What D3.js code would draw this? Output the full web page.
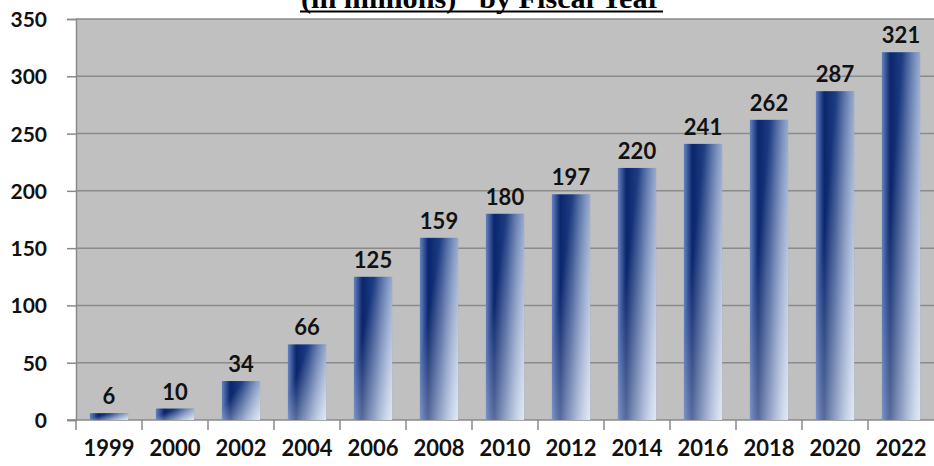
<!DOCTYPE html>
<html>
<head>
<meta charset="utf-8">
<script src="https://cdn.jsdelivr.net/npm/d3@7"></script>
<style>
  body { margin: 0; background: #fff; }
  svg { display: block; }
  .axis text { font-family: Lato, "Open Sans", sans-serif; font-weight: 700; fill: #111; }
  .value { font-family: Lato, "Open Sans", sans-serif; font-weight: 700; fill: #111; }
  .title { font-family: "Liberation Serif", "Times New Roman", serif; font-weight: 700; fill: #000; }
</style>
</head>
<body>
<svg id="chart" width="934" height="466"></svg>
<script>
var years = ["1999", "2000", "2002", "2004", "2006", "2008", "2010", "2012", "2014", "2016", "2018", "2020", "2022"];
var values = [6, 10, 34, 66, 125, 159, 180, 197, 220, 241, 262, 287, 321];
var yTicks = [0, 50, 100, 150, 200, 250, 300, 350];

var svg = d3.select("#chart"),
  margin = { top: 19, right: 0, bottom: 46, left: 76 },
  width = +svg.attr("width") - margin.left - margin.right,
  height = +svg.attr("height") - margin.top - margin.bottom;

var x = d3.scaleBand().domain(years).range([0, width]).paddingInner(0.42).paddingOuter(0.21),
  xEdge = d3.scaleBand().domain(years).range([0, width]),
  y = d3.scaleLinear().domain([0, 350]).range([height, 0]);

var defs = svg.append("defs");

// horizontal shading of a bar
var gh = defs.append("linearGradient").attr("id", "barH")
  .attr("x1", 0).attr("y1", 0).attr("x2", 1).attr("y2", 0);
gh.append("stop").attr("offset", "0%").attr("stop-color", "#6582c0");
gh.append("stop").attr("offset", "22%").attr("stop-color", "#0a266c");
gh.append("stop").attr("offset", "55%").attr("stop-color", "#203f84");
gh.append("stop").attr("offset", "100%").attr("stop-color", "#5f7cb4");

// lightening toward the bottom right
var gv = defs.append("linearGradient").attr("id", "barV")
  .attr("x1", 0.2).attr("y1", 0.45).attr("x2", 0.95).attr("y2", 1);
gv.append("stop").attr("offset", "0%").attr("stop-color", "#ffffff").attr("stop-opacity", 0);
gv.append("stop").attr("offset", "100%").attr("stop-color", "#eef3fc").attr("stop-opacity", 0.88);

// title, clipped at the top like the source
svg.append("text")
  .attr("class", "title")
  .attr("x", 481)
  .attr("y", 8)
  .attr("text-anchor", "middle")
  .attr("font-size", 27)
  .attr("textLength", 360)
  .attr("lengthAdjust", "spacingAndGlyphs")
  .text("(in millions)\u201D  by Fiscal Year");
svg.append("line")
  .attr("x1", 300).attr("x2", 663)
  .attr("y1", 11.5).attr("y2", 11.5)
  .attr("stroke", "#000").attr("stroke-width", 2);

var g = svg.append("g")
  .attr("transform", "translate(" + margin.left + "," + margin.top + ")");

g.append("rect")
  .attr("width", width)
  .attr("height", height)
  .attr("fill", "#c0c0c0");

g.append("g")
  .selectAll("line")
  .data(yTicks.slice(1))
  .enter().append("line")
  .attr("x1", 0).attr("x2", width)
  .attr("y1", function (d) { return y(d); })
  .attr("y2", function (d) { return y(d); })
  .attr("stroke", "#8a8a8a")
  .attr("stroke-width", 1.5);

// y axis
var yAxis = g.append("g")
  .attr("class", "axis axis--y")
  .call(d3.axisLeft(y).tickValues(yTicks).tickSize(9).tickPadding(20));
yAxis.select(".domain").attr("stroke", "#8a8a8a").attr("stroke-width", 1.5);
yAxis.selectAll(".tick line").attr("stroke", "#8a8a8a").attr("stroke-width", 1.5);
yAxis.selectAll("text").attr("font-size", 21).attr("dy", "0.36em");

// x axis with ticks between categories
var xAxis = g.append("g")
  .attr("class", "axis axis--x")
  .attr("transform", "translate(0," + height + ")");
xAxis.append("line")
  .attr("x1", -9).attr("x2", width)
  .attr("stroke", "#8a8a8a").attr("stroke-width", 1.5);
xAxis.selectAll(".sep")
  .data(years)
  .enter().append("line")
  .attr("class", "sep")
  .attr("x1", function (d) { return xEdge(d); })
  .attr("x2", function (d) { return xEdge(d); })
  .attr("y1", 0).attr("y2", 10)
  .attr("stroke", "#8a8a8a").attr("stroke-width", 1.5);
xAxis.selectAll("text")
  .data(years)
  .enter().append("text")
  .attr("x", function (d) { return xEdge(d) + xEdge.bandwidth() / 2; })
  .attr("y", 36)
  .attr("text-anchor", "middle")
  .attr("font-size", 22)
  .text(function (d) { return d; });

// bars
var bars = g.selectAll(".bar")
  .data(values)
  .enter().append("g")
  .attr("class", "bar");

bars.append("rect")
  .attr("x", function (d, i) { return x(years[i]); })
  .attr("y", function (d) { return y(d); })
  .attr("width", x.bandwidth())
  .attr("height", function (d) { return height - y(d); })
  .attr("fill", "url(#barH)");

bars.append("rect")
  .attr("x", function (d, i) { return x(years[i]); })
  .attr("y", function (d) { return y(d); })
  .attr("width", x.bandwidth())
  .attr("height", function (d) { return height - y(d); })
  .attr("fill", "url(#barV)");

bars.append("text")
  .attr("class", "value")
  .attr("x", function (d, i) { return x(years[i]) + x.bandwidth() / 2; })
  .attr("y", function (d) { return y(d) - 9; })
  .attr("text-anchor", "middle")
  .attr("font-size", 22)
  .text(function (d) { return d; });
</script>
</body>
</html>
